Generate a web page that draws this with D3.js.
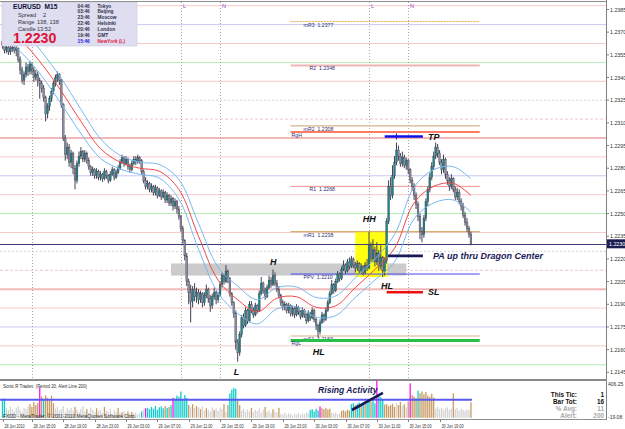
<!DOCTYPE html>
<html><head><meta charset="utf-8">
<script src="https://cdn.jsdelivr.net/npm/d3@7"></script>
<style>body{margin:0;background:#fff}svg{display:block}text{font-family:"Liberation Sans",Arial,sans-serif}</style>
</head><body><svg id="c" width="625" height="429"></svg>
<script>
// ---------- DATA (prices in pips above 1.2000) ----------
const firstOpen = 364;
const closes = [
361,358,360,357,359,360,358,359,352,345, 338,342,347,344,349,345,340,342,338,336,
333,327,316,321,326,331,336,340,342,338, 322,300,289,294,284,290,280,272,283,288,
291,286,290,285,281,277,279,275,278,274, 276,273,278,275,272,276,279,274,277,280,
284,287,283,286,281,279,283,286,284,287, 285,278,272,268,270,266,268,264,267,262,
265,261,264,259,262,257,260,255,258,253, 248,240,232,222,205,198,192,200,195,198,
193,197,191,196,200,194,189,195,198,193, 196,203,209,205,212,207,197,191,184,165,
158,170,181,176,186,179,190,186,183,189, 186,197,204,199,195,201,206,203,209,204,
200,196,191,188,190,186,189,184,187,183, 188,185,182,186,183,179,184,181,186,180,
176,172,178,183,180,186,191,197,203,199, 205,210,207,213,216,212,218,215,220,216,
214,217,212,215,211,216,214,229,220,226, 218,224,215,221,212,219,245,268,262,275,
284,292,288,283,287,282,285,279,272,268, 262,256,248,238,236,247,258,266,274,281,
288,294,290,284,279,286,276,272,268,273, 266,261,264,258,255,249,244,240,236,230];
const highs = [
366,363,362,361,361,363,361,361,360,354, 347,344,350,349,351,350,347,345,344,340,
338,335,328,323,328,333,338,342,344,343, 339,323,302,297,296,292,291,282,285,291,
294,292,292,291,287,282,281,280,280,279, 278,277,280,279,276,278,281,280,279,282,
286,289,288,288,287,283,285,288,288,289, 288,286,279,274,272,271,270,269,269,268,
267,266,266,265,264,263,262,261,260,259, 255,249,242,233,224,207,203,202,204,201,
200,199,198,198,203,201,196,197,201,199, 198,205,211,210,216,213,208,198,192,186,
167,172,183,184,188,187,192,192,188,191, 190,199,208,205,201,203,209,208,213,211,
206,202,197,193,192,191,191,190,189,188, 190,189,186,188,187,184,186,185,188,187,
181,177,180,185,184,188,193,199,206,204, 207,212,211,215,219,217,220,221,222,221,
218,219,218,217,216,218,220,238,231,233, 228,231,226,229,222,221,247,272,274,282,
288,297,295,290,291,289,287,286,280,274, 270,264,258,250,241,249,260,268,277,284,
291,297,296,292,286,289,287,278,274,276, 274,268,267,266,260,257,251,247,242,238];
const lows = [
359,356,356,355,355,357,356,354,350,342, 336,335,340,341,342,342,337,338,334,326,
330,324,311,313,318,324,329,334,337,335, 320,298,285,286,281,280,276,266,270,281,
286,284,284,283,279,275,275,273,273,272, 272,271,272,273,270,271,275,272,273,276,
279,283,281,282,279,277,278,282,282,283, 283,276,270,266,266,264,264,262,262,260,
261,259,260,257,257,255,255,252,253,250, 246,238,230,219,202,190,178,188,192,191,
190,191,188,189,194,191,185,187,193,190, 191,195,201,203,204,204,195,189,181,160,
152,156,168,174,175,177,178,184,181,182, 184,185,196,197,193,194,200,201,202,202,
198,194,189,186,186,184,184,182,182,181, 182,183,180,181,181,177,178,179,180,178,
173,168,170,177,178,179,185,190,196,197, 198,204,205,206,212,210,211,213,214,214,
211,212,210,210,209,210,212,213,218,218, 215,216,212,213,208,209,217,243,259,260,
273,282,285,281,281,280,279,276,270,265, 259,253,245,233,231,234,245,255,264,272,
279,286,287,282,276,277,273,269,265,266, 264,259,259,256,252,247,242,238,234,229];

const dragonBars = [0,10,20,30,40,50,60,70,80,90,100,110,120,130,140,150,160,170,180,190,200,210,220,230,239];
const dragonMid  = [375,364,349,331,311,293,284,280,278,266,235,206,193,185,194,195,188,189,201,213,227,257,268,270,262];
const dragonHigh = [383,372,357,339.5,319,299.5,288.5,284,282.5,272.5,243.5,214.5,202,193,201,201.5,194.5,195.5,207.5,220,236,267.5,279,281,273];
const dragonLow  = [367,356,341,322.5,303,286.5,279.5,276,273.5,259.5,226.5,197.5,184,177,187,188.5,181.5,182.5,194.5,206,218,246.5,257,259,251];

const volumes = [
205,215,110,85,125,95,70,105,130,90, 65,110,95,125,150,120,175,140,165,340,
235,205,250,220,185,245,160,100,120,80, 95,130,60,105,85,110,75,120,90,65,
100,130,70,95,55,115,85,60,105,75, 90,50,120,80,65,100,45,85,70,110,
55,60,75,40,70,50,65,45,60,35, 50,70,90,105,110,95,120,100,130,90,
115,125,105,130,110,120,140,220,210,245, 230,290,200,250,220,140,120,150,110,130,
115,95,125,80,105,90,70,115,85,100, 75,110,95,150,60,140,270,310,330,320,
190,140,80,100,65,95,70,110,60,85, 75,105,55,90,120,65,80,50,95,70,
60,110,45,35,55,30,50,40,25,45, 35,55,30,45,40,60,50,85,95,70,
100,80,125,105,95,110,90,100,55,45, 60,40,50,75,85,70,90,80,150,160,
140,155,170,145,165,150,160,190,175,210, 160,410,240,230,200,145,150,130,140,155,
120,165,140,175,130,150,115,180,380,250, 235,220,300,270,290,260,285,245,230,265,
225,100,120,95,110,90,105,115,85,100, 270,95,110,80,100,90,75,95,85,170];
const volKinds = ("ccgggggggg"+"ggggtttttm"+"tctttttggg"+"gggggggtgg"+"gggtggggtg"+"ggtggggggt"+
  "gtggtgtggg"+"gcgmcccccc"+"ccctctcmcc"+"ccccctgtgt"+"gtggtgggtg"+"gggtgtcccc"+
  "ttgggggtgg"+"ggggtgggtg"+"gtgggggggg"+"gggggggccc"+"ccmtttttgg"+"gggtttttcc"+
  "tcctctcctc"+"cmcccttttt"+"tgttgtgtmt"+"ttcttttttt"+"tggggggggg"+"tggggggggt").split("");

const priceTicks = [1.2385,1.2370,1.2355,1.2340,1.2325,1.2310,1.2295,1.2280,1.2265,1.2250,1.2235,1.2220,1.2205,1.2190,1.2175,1.2160,1.2145];
const timeTickBars = [0,15,31,47,63,79,95,111,127,143,159,175,191,207,223];
const timeTickLabels = ["28 Jun 2010","28 Jun 15:00","28 Jun 19:00","28 Jun 23:00","29 Jun 03:00","29 Jun 07:00","29 Jun 11:00","29 Jun 15:00","29 Jun 19:00","29 Jun 23:00","30 Jun 03:00","30 Jun 07:00","30 Jun 11:00","30 Jun 15:00","30 Jun 19:00"];
const sessionBars = [15,91,111,187,207];
const sessionLetters = ["","L","N","L","N"];

const mmLevels = [1.21500,1.21625,1.21750,1.21875,1.22000,1.22125,1.22250,1.22375,1.22500,1.22625,1.22750,1.22875,1.23000,1.23125,1.23250,1.23375,1.23500,1.23625,1.23750,1.23875];
const mmKinds  = ["green","pink","lav","pink","thick","dpink","dgray","pink","green","pink","lav","pink","thick","dpink","dgray","pink","green","pink","lav","pink"];

const pivotNames  = ["mR3","R2","mR2","R1","mR1","PPV","mS1"];
const pivotValues = [1.2377,1.2348,1.2308,1.2268,1.2238,1.2210,1.2169];
const rangeNames  = ["RgH","RgL"];
const rangeValues = [1.2304,1.2166];
const pivotStartBar = 147, pivotEndBar = 243.5;

const currentPrice = 1.2230;
const bandBars = [86,206], bandPrices = [1.2209,1.2217];
const boxBars = [180,196.3], boxPrices = [1.2208,1.22385];
const tradeNames = ["TP","PA up thru Dragon Center","SL"];
const tradePrices = [1.2301,1.2222,1.2198];
const tradeBars = [[195,214.5],[196.7,214.5],[196,214.5]];
const swingNames = ["HH","HL","H","L","HL"];
const swingBars = [183.8,193.1,136.5,118,158.3];
const swingPrices = [1.22444,1.2200,1.22159,1.21431,1.21563];

// ---------- DRAW ----------
const svg = d3.select("#c");
const P = v => 1.2 + v/10000;
const xB = d3.scaleLinear().domain([0,239]).range([2.5, 2.5+239*1.96]);
const yP = d3.scaleLinear().domain([1.2145,1.2385]).range([372.3,9.5]);
const yV = d3.scaleLinear().domain([-19.08,406.25]).range([419.5,381]);

svg.append("rect").attr("width",625).attr("height",429).attr("fill","#fff");
svg.append("clipPath").attr("id","mc").append("rect").attr("x",0).attr("y",2).attr("width",606).attr("height",377);
const main = svg.append("g").attr("clip-path","url(#mc)");

const mmStyle = {pink:["#f6caca",1,null],thick:["#f2b8b8",2,null],lav:["#c8c8f2",1,null],green:["#b4ecb4",1,null],dgray:["#d2d2d2",1,"2,2"],dpink:["#f0c6c6",1,"3,2"]};
mmLevels.forEach((lv,k)=>{
  const s = mmStyle[mmKinds[k]];
  main.append("line").attr("x1",0).attr("x2",606).attr("y1",yP(lv)).attr("y2",yP(lv))
    .attr("stroke",s[0]).attr("stroke-width",s[1]).attr("stroke-dasharray",s[2]);
});

sessionBars.forEach((b,k)=>{
  const x = Math.round(xB(b))+0.5;
  main.append("line").attr("x1",x).attr("x2",x).attr("y1",2).attr("y2",379)
    .attr("stroke","#a8a8a8").attr("stroke-dasharray","1,2");
  if (sessionLetters[k]) main.append("text").attr("x",x+1.5).attr("y",8).attr("font-size",5.5)
    .attr("fill","#a040d0").text(sessionLetters[k]);
});

// gray band and yellow box
main.append("rect").attr("x",xB(bandBars[0])).attr("width",xB(bandBars[1])-xB(bandBars[0]))
  .attr("y",yP(bandPrices[1])).attr("height",yP(bandPrices[0])-yP(bandPrices[1])).attr("fill","#cbcbcb");
main.append("rect").attr("x",xB(boxBars[0])).attr("width",xB(boxBars[1])-xB(boxBars[0]))
  .attr("y",yP(boxPrices[1])).attr("height",yP(boxPrices[0])-yP(boxPrices[1])).attr("fill","#ffff10");

// pivots
const pivStyle = {mR3:["#e8a848",1,"2,1"],R2:["#f4b4b4",2,null],mR2:["#d4b48c",1.2,null],R1:["#f09090",1,null],mR1:["#d8b070",1.2,null],PPV:["#4848f0",1,null],mS1:["#d4b48c",1.2,null]};
const px1 = xB(pivotStartBar), px2 = xB(pivotEndBar);
pivotNames.forEach((n,k)=>{
  const s = pivStyle[n], y = yP(pivotValues[k]);
  main.append("line").attr("x1",px1).attr("x2",px2).attr("y1",y).attr("y2",y)
    .attr("stroke",s[0]).attr("stroke-width",s[1]).attr("stroke-dasharray",s[2]);
  main.append("text").attr("x",n.length===2?px1+19:px1+13).attr("y",y+5).attr("font-size",5.2)
    .attr("fill","#303070").style("white-space","pre").text(n+"  "+pivotValues[k].toFixed(4));
});
[["#ff5030",1.5],["#28c048",3]].forEach((s,k)=>{
  const y = yP(rangeValues[k]);
  main.append("line").attr("x1",px1).attr("x2",px2).attr("y1",y).attr("y2",y).attr("stroke",s[0]).attr("stroke-width",s[1]);
  main.append("text").attr("x",px1+1).attr("y",y+(k?4.8:5)).attr("font-size",5.2).attr("fill","#303070").text(rangeNames[k]);
});

// current price line
main.append("line").attr("x1",0).attr("x2",606).attr("y1",Math.round(yP(currentPrice))+0.5).attr("y2",Math.round(yP(currentPrice))+0.5)
  .attr("stroke","#3c3c78").attr("stroke-width",1);

// candles
const cg = main.append("g");
closes.forEach((c,i)=>{
  const o = i===0 ? firstOpen : closes[i-1];
  const x = xB(i);
  cg.append("line").attr("x1",x).attr("x2",x).attr("y1",yP(P(highs[i]))).attr("y2",yP(P(lows[i])))
    .attr("stroke","#404054").attr("stroke-width",1);
  const top = yP(P(Math.max(o,c))), bot = yP(P(Math.min(o,c)));
  cg.append("rect").attr("x",x-0.9).attr("width",1.8).attr("y",top).attr("height",Math.max(0.8,bot-top))
    .attr("fill", c>=o ? "#1c8484" : "#8a8a9a").attr("stroke","#404054").attr("stroke-width",0.35);
});

// dragon
const dl = d3.line().x(d=>xB(d[0])).y(d=>yP(P(d[1]))).curve(d3.curveCatmullRom);
[[dragonHigh,"#7ab8f0"],[dragonLow,"#7ab8f0"],[dragonMid,"#f04848"]].forEach(([arr,col])=>{
  main.append("path").attr("d",dl(dragonBars.map((b,k)=>[b,arr[k]]))).attr("fill","none").attr("stroke",col).attr("stroke-width",1);
});

// trade lines & labels
const tradeCols = ["#1010e8","#1a1a58","#ee1010"];
tradeNames.forEach((n,k)=>{
  const y = yP(tradePrices[k]);
  main.append("line").attr("x1",xB(tradeBars[k][0])).attr("x2",xB(tradeBars[k][1])).attr("y1",y).attr("y2",y)
    .attr("stroke",tradeCols[k]).attr("stroke-width",2.6);
  main.append("text").attr("x",xB(tradeBars[k][1])+(k===1?10:5)).attr("y",y+3.2).attr("font-size",9)
    .attr("font-weight","bold").attr("font-style","italic").attr("fill",k===1?"#1a1a58":"#111").text(n);
});
main.append("line").attr("x1",xB(201)).attr("x2",xB(201)).attr("y1",yP(1.2301)-3).attr("y2",yP(1.2301)+3).attr("stroke","#1010e8").attr("stroke-width",1);
swingNames.forEach((n,k)=>{
  main.append("text").attr("x",xB(swingBars[k])).attr("y",yP(swingPrices[k])).attr("font-size",9)
    .attr("font-weight","bold").attr("font-style","italic").attr("fill","#111").text(n);
});

// info box
const ib = svg.append("g");
ib.append("rect").attr("x",2).attr("y",2).attr("width",135).attr("height",44).attr("fill","#dedef0").attr("stroke","#c4c4dc").attr("stroke-width",0.5);
ib.append("text").attr("x",13).attr("y",8.8).attr("font-size",6.6).attr("font-weight","bold").attr("fill","#10103a").style("white-space","pre").text("EURUSD  M15");
[["Spread","2",16.5,43],["Range","138, 138",23.6,37],["Candle","13:52",30.6,37]].forEach(r=>{
  ib.append("text").attr("x",18).attr("y",r[2]).attr("font-size",5.6).attr("fill","#303040").text(r[0]);
  ib.append("text").attr("x",r[3]).attr("y",r[2]).attr("font-size",5.6).attr("fill","#303040").text(r[1]);
});
ib.append("text").attr("x",13).attr("y",43.2).attr("font-size",14.2).attr("font-weight","bold").attr("fill","#e01038").text("1.2230");
const clockT = ["04:46","03:46","23:46","22:46","20:46","19:46","15:46"];
const clockN = ["Tokyo","Beijing","Moscow","Helsinki","London","GMT","NewYork (L)"];
clockT.forEach((t,k)=>{
  const y = 7.6 + k*5.85, last = k===6;
  ib.append("text").attr("x",77.5).attr("y",y).attr("font-size",4.8).attr("font-weight","bold").attr("fill",last?"#2020e0":"#303048").text(t);
  ib.append("text").attr("x",97.5).attr("y",y).attr("font-size",4.8).attr("font-weight","bold").attr("fill",last?"#e02040":"#303048").text(clockN[k]);
});

// price axis
svg.append("line").attr("x1",606.5).attr("x2",606.5).attr("y1",0).attr("y2",420).attr("stroke","#808080");
svg.append("line").attr("x1",0).attr("x2",606).attr("y1",1.5).attr("y2",1.5).attr("stroke","#909090");
priceTicks.forEach(t=>{
  const y = yP(t);
  svg.append("line").attr("x1",606).attr("x2",609).attr("y1",y).attr("y2",y).attr("stroke","#808080");
  svg.append("text").attr("x",610).attr("y",y+2).attr("font-size",5.3).attr("fill","#303030").text(t.toFixed(4));
});
const cy = yP(currentPrice);
svg.append("rect").attr("x",607).attr("y",cy-4.5).attr("width",18).attr("height",9).attr("fill","#1c1c50");
svg.append("text").attr("x",609).attr("y",cy+2).attr("font-size",5.3).attr("fill","#fff").text(currentPrice.toFixed(4));

// indicator panel
svg.append("rect").attr("x",0).attr("y",379).attr("width",607).attr("height",2).attr("fill","#8a8a8a");
svg.append("line").attr("x1",0).attr("x2",607).attr("y1",419.5).attr("y2",419.5).attr("stroke","#909090");
const vcol = {g:"#d4d4d4",t:"#c89a62",c:"#10cccc",m:"#ff10f0"};
volumes.forEach((v,i)=>{
  svg.append("rect").attr("x",xB(i)-0.65).attr("width",1.3).attr("y",yV(v)).attr("height",yV(0)-yV(v)).attr("fill",vcol[volKinds[i]]);
});
svg.append("line").attr("x1",0).attr("x2",xB(239)+1).attr("y1",yV(200)).attr("y2",yV(200)).attr("stroke","#5a5af0").attr("stroke-width",2);
svg.append("text").attr("x",3).attr("y",388).attr("font-size",5).attr("fill","#303030").attr("textLength",84).attr("lengthAdjust","spacingAndGlyphs").style("white-space","pre").text("Sonic R Trades  (Period 20, Alert Line 200)");
svg.append("text").attr("x",3).attr("y",418).attr("font-size",5).attr("fill","#303030").attr("textLength",133).attr("lengthAdjust","spacingAndGlyphs").text("FXDD - MetaTrader, \u00a9 2001-2010 MetaQuotes Software Corp.");
svg.append("text").attr("x",608).attr("y",386).attr("font-size",5).attr("fill","#303030").text("406.25");
svg.append("text").attr("x",608).attr("y",419).attr("font-size",5).attr("fill","#303030").text("-19.08");
const statN = ["This Tic:","Bar Tot:","% Avg:","Alert:"], statV = ["1","16","11","200"];
statN.forEach((n,k)=>{
  const y = 397 + k*6.9, col = k<2 ? "#111" : "#a8a8a8";
  svg.append("text").attr("x",577).attr("y",y).attr("text-anchor","end").attr("font-size",6.4).attr("font-weight","bold").attr("fill",col).text(n);
  svg.append("text").attr("x",604).attr("y",y).attr("text-anchor","end").attr("font-size",6.4).attr("font-weight","bold").attr("fill",col).text(statV[k]);
});
svg.append("line").attr("x1",xB(178.3)).attr("x2",xB(194.1)).attr("y1",yV(86)).attr("y2",yV(274)).attr("stroke","#1a1a58").attr("stroke-width",2.6);
svg.append("text").attr("x",xB(161)).attr("y",yV(274)).attr("font-size",8.6).attr("font-weight","bold").attr("font-style","italic").attr("fill","#1a1a58").text("Rising Activity");

// time axis
timeTickBars.forEach((b,k)=>{
  const x = Math.round(xB(b))+0.5;
  svg.append("line").attr("x1",x).attr("x2",x).attr("y1",419.5).attr("y2",422).attr("stroke","#808080");
  svg.append("text").attr("x",x+1).attr("y",427.5).attr("font-size",4.8).attr("fill","#303030")
    .attr("textLength",k===0?20:22).attr("lengthAdjust","spacingAndGlyphs").text(timeTickLabels[k]);
});
</script></body></html>
